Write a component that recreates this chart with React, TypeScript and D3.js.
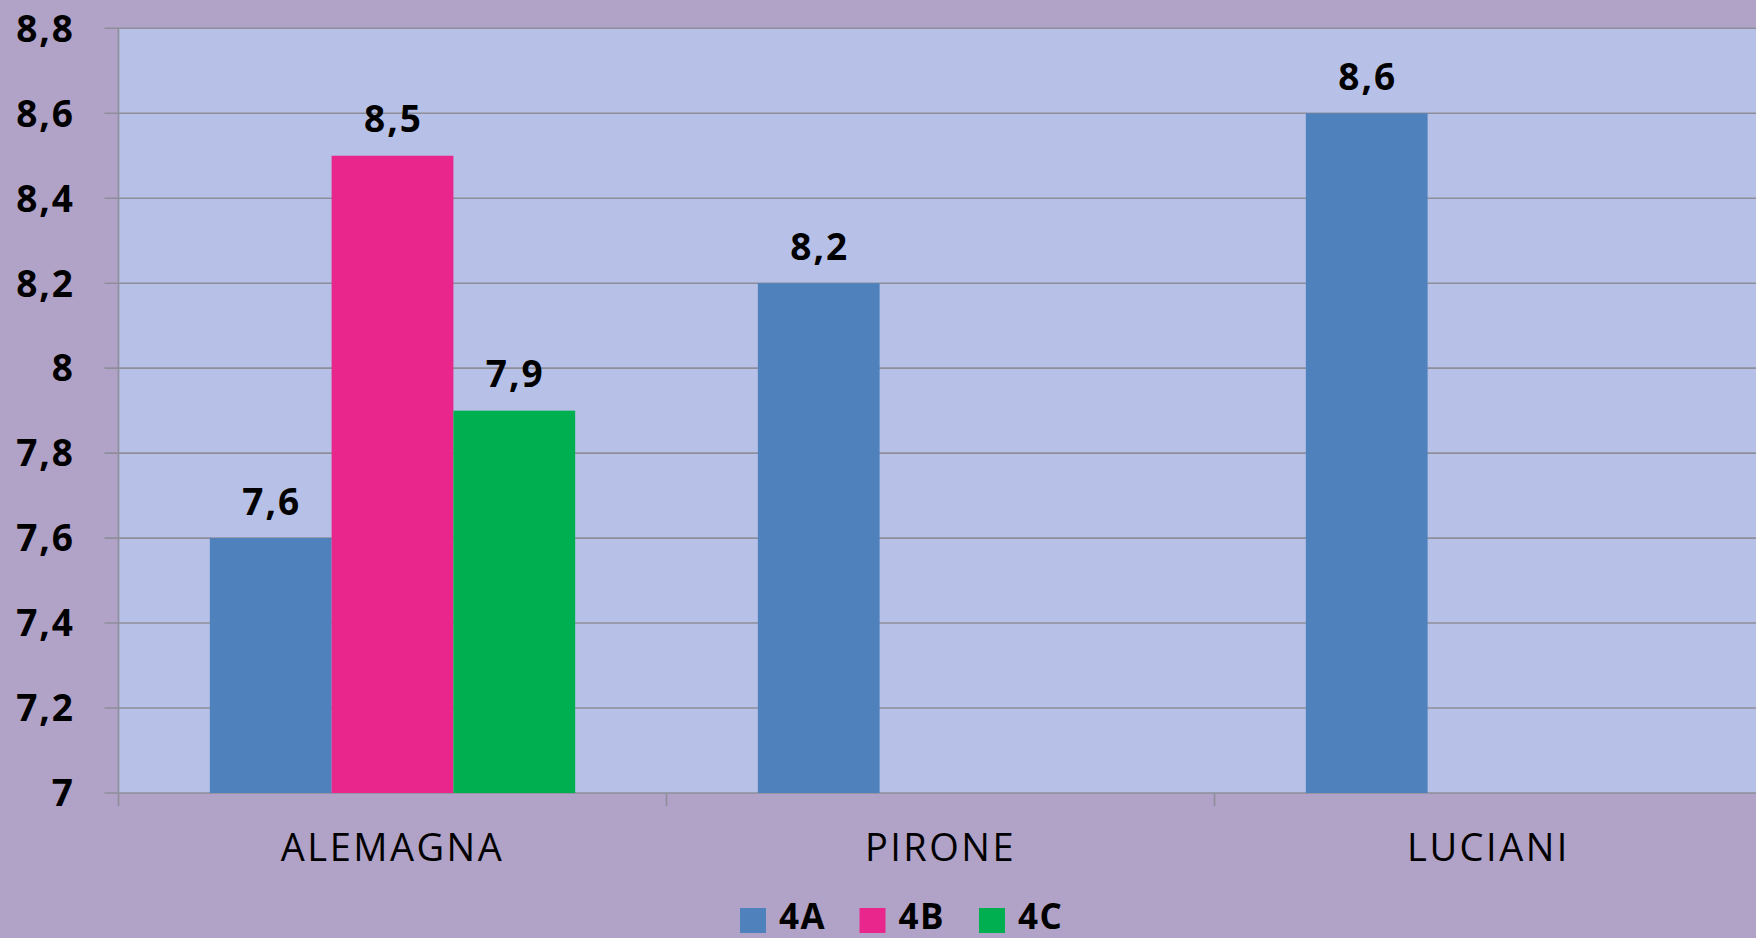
import React from "react";
import * as d3 from "d3";

const categories = ["ALEMAGNA", "PIRONE", "LUCIANI"];
const seriesNames = ["4A", "4B", "4C"];
const values4A: (number | null)[] = [7.6, 8.2, 8.6];
const values4B: (number | null)[] = [8.5, null, null];
const values4C: (number | null)[] = [7.9, null, null];
const yTicks = [7, 7.2, 7.4, 7.6, 7.8, 8, 8.2, 8.4, 8.6, 8.8];
const seriesColors = ["#4F81BD", "#E9268B", "#00B050"];

const W = 1756;
const H = 938;
const left = 118.5;
const top = 28.3;
const bottom = 793;
const band = 548;

const locale = d3.formatLocale({ decimal: ",", thousands: ".", grouping: [3], currency: ["", "€"] });
const fmt = locale.format(".1~f");

export default function App() {
  const x = d3.scaleBand<string>().domain(categories).range([left, left + band * categories.length]).padding(0);
  const xs = d3.scaleBand<string>().domain(seriesNames).range([0, x.bandwidth()]).paddingInner(0).paddingOuter(0.75);
  const y = d3.scaleLinear().domain([7, 8.8]).range([bottom, top]);
  const allSeries = [values4A, values4B, values4C];
  const right = left + band * categories.length;

  const bars: any[] = [];
  allSeries.forEach((vals, si) => {
    vals.forEach((v, ci) => {
      if (v == null) return;
      bars.push({ s: seriesNames[si], c: categories[ci], v, color: seriesColors[si] });
    });
  });

  const font = "'Open Sans', 'DejaVu Sans', sans-serif";

  return (
    <svg width={W} height={H} style={{ position: "absolute", left: 0, top: 0, display: "block" }}>
      <rect x={0} y={0} width={W} height={H} fill="#B1A2C7" />
      <rect x={left} y={top} width={right - left} height={bottom - top} fill="#B7C1E7" />
      {yTicks.map((t) => (
        <g key={t}>
          <line x1={left - 14} x2={right} y1={y(t)} y2={y(t)} stroke="#8E8E9A" strokeWidth={1.6} />
          <text x={75} y={y(t)} dy="0.36em" textAnchor="end" fontFamily={font} fontWeight="bold" fontSize={37} letterSpacing={2} fill="#000">
            {fmt(t)}
          </text>
        </g>
      ))}
      <line x1={left} x2={left} y1={top} y2={bottom + 13} stroke="#8E8E9A" strokeWidth={1.6} />
      {categories.map((c) => (
        <line key={c} x1={x(c)! + x.bandwidth()} x2={x(c)! + x.bandwidth()} y1={bottom} y2={bottom + 13} stroke="#8E8E9A" strokeWidth={1.6} />
      ))}
      {bars.map((b) => (
        <g key={b.s + b.c}>
          <rect x={x(b.c)! + xs(b.s)!} y={y(b.v)} width={xs.bandwidth()} height={bottom - y(b.v)} fill={b.color} />
          <text x={x(b.c)! + xs(b.s)! + xs.bandwidth() / 2 + 1} y={y(b.v) - 23.5} textAnchor="middle" fontFamily={font} fontWeight="bold" fontSize={37} letterSpacing={2} fill="#000">
            {fmt(b.v)}
          </text>
        </g>
      ))}
      {categories.map((c) => (
        <text key={c} x={x(c)! + x.bandwidth() / 2} y={861} textAnchor="middle" fontFamily={font} fontSize={38} letterSpacing={2.5} fill="#000">
          {c}
        </text>
      ))}
      {seriesNames.map((s, i) => (
        <g key={s} transform={`translate(${740 + i * 119.5},0)`}>
          <rect x={0} y={908} width={26} height={25} fill={seriesColors[i]} />
          <text x={39} y={929} fontFamily={font} fontWeight="bold" fontSize={35} letterSpacing={1.5} fill="#000">
            {s}
          </text>
        </g>
      ))}
    </svg>
  );
}
